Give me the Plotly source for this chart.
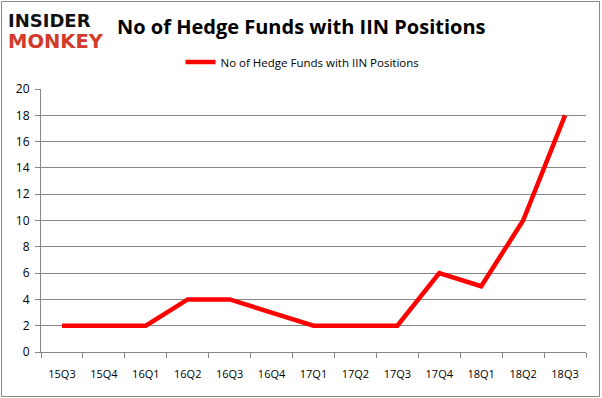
import plotly.graph_objects as go

categories = ["15Q3", "15Q4", "16Q1", "16Q2", "16Q3", "16Q4", "17Q1", "17Q2", "17Q3", "17Q4", "18Q1", "18Q2", "18Q3"]
values = [2, 2, 2, 4, 4, 3, 2, 2, 2, 6, 5, 10, 18]
series_name = "No of Hedge Funds with IIN Positions"
y_ticks = [0, 2, 4, 6, 8, 10, 12, 14, 16, 18, 20]

W, H = 602, 398
L, R, T, B = 41, 16, 89, 46
pw, ph = W - L - R, H - T - B

fig = go.Figure()
fig.add_trace(go.Scatter(
    x=categories, y=values, mode="lines", name=series_name,
    line=dict(color="#ff0000", width=4.5),
))

def px(xp):
    return (xp - L) / pw

def py(yp):
    return (H - B - yp) / ph

fig.update_layout(
    width=W, height=H,
    margin=dict(l=L, r=R, t=T, b=B, autoexpand=False),
    paper_bgcolor="white", plot_bgcolor="white",
    font=dict(family="Open Sans, Liberation Sans, sans-serif", size=11, color="#000"),
    showlegend=True,
    legend=dict(orientation="h", x=px(302.5), xanchor="center", y=py(62), yanchor="middle",
                font=dict(size=11.5), bgcolor="rgba(0,0,0,0)"),
    xaxis=dict(
        type="category", showgrid=False, showline=True, linecolor="#868686", linewidth=1,
        ticks="outside", tickson="boundaries", ticklen=5, tickcolor="#868686",
        tickfont=dict(size=11), range=[-0.5, 12.5], fixedrange=True, automargin=False,
        ticklabelstandoff=12,
    ),
    yaxis=dict(
        range=[0, 20], tickvals=y_ticks, showgrid=True, gridcolor="#868686", gridwidth=1,
        showline=True, linecolor="#868686", ticks="outside", ticklen=5, tickcolor="#868686",
        tickfont=dict(size=12), zeroline=False, automargin=False, fixedrange=True,
        ticklabelstandoff=3,
    ),
    shapes=[dict(type="rect", xref="paper", yref="paper",
                 x0=px(1.5), x1=px(W - 2.5), y0=py(1.5), y1=py(H - 1.5),
                 line=dict(color="#888888", width=1), fillcolor="rgba(0,0,0,0)", layer="below")],
    annotations=[
        dict(text="<b>No of Hedge Funds with IIN Positions</b>", xref="paper", yref="paper",
             x=px(115), y=py(27), xanchor="left", yanchor="middle", showarrow=False,
             font=dict(family="Open Sans, sans-serif", size=20, color="#000")),
        dict(text="<b>INSIDER</b>", xref="paper", yref="paper",
             x=px(6), y=py(20), xanchor="left", yanchor="middle", showarrow=False,
             font=dict(family="DejaVu Sans, sans-serif", size=18, color="#111")),
        dict(text="<b>MONKEY</b>", xref="paper", yref="paper",
             x=px(6), y=py(42), xanchor="left", yanchor="middle", showarrow=False,
             font=dict(family="DejaVu Sans, sans-serif", size=19.5, color="#d23a2a")),
    ],
)

fig.write_html("out.html", config={"displayModeBar": False},
               post_script="document.body.style.margin='0px';")
